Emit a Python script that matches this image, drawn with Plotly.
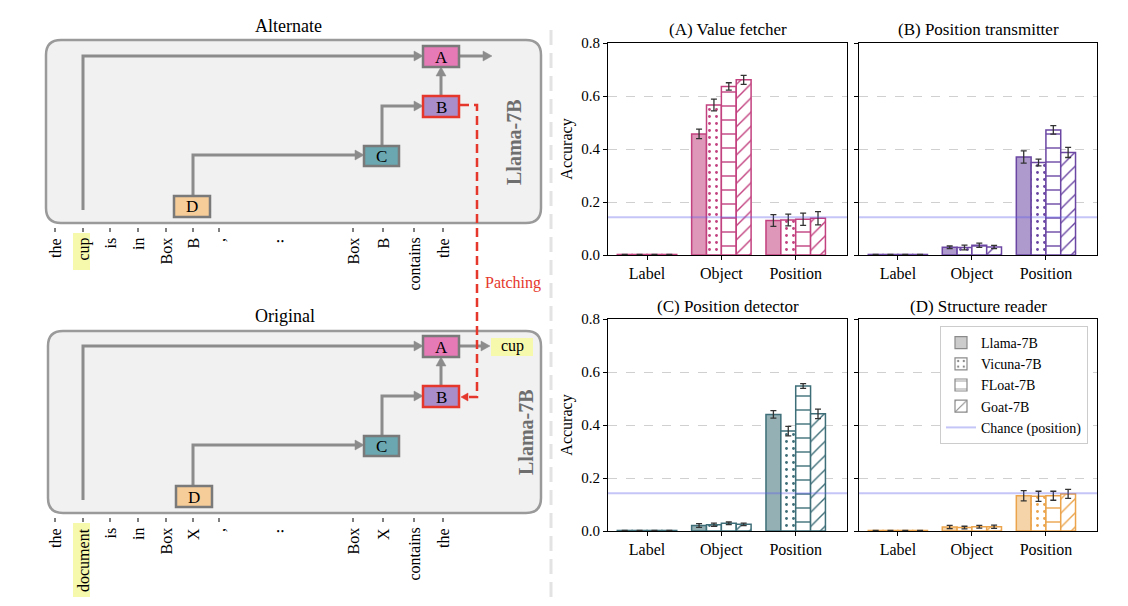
import plotly.graph_objects as go

W, H = 1128, 606
OFF = 8  # page body margin in the browser
SERIF = "Liberation Serif"

# ---------------- data ----------------
CATEGORIES = ["Label", "Object", "Position"]
MODELS = ["Llama-7B", "Vicuna-7B", "FLoat-7B", "Goat-7B"]
PANEL_TITLES = ["(A) Value fetcher", "(B) Position transmitter",
                "(C) Position detector", "(D) Structure reader"]
CHANCE = 1 / 7
Y_TICKS = [0.0, 0.2, 0.4, 0.6, 0.8]

A_LLAMA = [0.002, 0.457, 0.130]
A_VICUNA = [0.002, 0.566, 0.132]
A_FLOAT = [0.002, 0.636, 0.135]
A_GOAT = [0.002, 0.661, 0.139]
A_LLAMA_ERR = [0.0, 0.018, 0.022]
A_VICUNA_ERR = [0.0, 0.022, 0.022]
A_FLOAT_ERR = [0.0, 0.014, 0.023]
A_GOAT_ERR = [0.0, 0.017, 0.025]

B_LLAMA = [0.002, 0.029, 0.370]
B_VICUNA = [0.002, 0.028, 0.349]
B_FLOAT = [0.002, 0.037, 0.472]
B_GOAT = [0.002, 0.030, 0.387]
B_LLAMA_ERR = [0.0, 0.005, 0.023]
B_VICUNA_ERR = [0.0, 0.009, 0.013]
B_FLOAT_ERR = [0.0, 0.008, 0.016]
B_GOAT_ERR = [0.0, 0.006, 0.019]

C_LLAMA = [0.002, 0.021, 0.440]
C_VICUNA = [0.002, 0.024, 0.377]
C_FLOAT = [0.002, 0.029, 0.547]
C_GOAT = [0.002, 0.025, 0.442]
C_LLAMA_ERR = [0.0, 0.007, 0.014]
C_VICUNA_ERR = [0.0, 0.006, 0.018]
C_FLOAT_ERR = [0.0, 0.005, 0.009]
C_GOAT_ERR = [0.0, 0.005, 0.018]

D_LLAMA = [0.002, 0.015, 0.133]
D_VICUNA = [0.002, 0.013, 0.131]
D_FLOAT = [0.002, 0.016, 0.133]
D_GOAT = [0.002, 0.016, 0.140]
D_LLAMA_ERR = [0.0, 0.006, 0.019]
D_VICUNA_ERR = [0.0, 0.005, 0.019]
D_FLOAT_ERR = [0.0, 0.005, 0.017]
D_GOAT_ERR = [0.0, 0.006, 0.017]

TOP_TOKENS = ["the", "cup", "is", "in", "Box", "B", ",", "Box", "B", "contains", "the"]
BOTTOM_TOKENS = ["the", "document", "is", "in", "Box", "X", ",", "Box", "X", "contains", "the"]
TOKEN_X = [55, 83, 110, 138, 166, 193, 219, 353, 383, 414, 443]

PANEL_VALUES = [
    [A_LLAMA, A_VICUNA, A_FLOAT, A_GOAT],
    [B_LLAMA, B_VICUNA, B_FLOAT, B_GOAT],
    [C_LLAMA, C_VICUNA, C_FLOAT, C_GOAT],
    [D_LLAMA, D_VICUNA, D_FLOAT, D_GOAT],
]
PANEL_ERRORS = [
    [A_LLAMA_ERR, A_VICUNA_ERR, A_FLOAT_ERR, A_GOAT_ERR],
    [B_LLAMA_ERR, B_VICUNA_ERR, B_FLOAT_ERR, B_GOAT_ERR],
    [C_LLAMA_ERR, C_VICUNA_ERR, C_FLOAT_ERR, C_GOAT_ERR],
    [D_LLAMA_ERR, D_VICUNA_ERR, D_FLOAT_ERR, D_GOAT_ERR],
]

# ---------------- styles ----------------
PANEL_EDGE = ["#C2417F", "#6B47A3", "#3E6E78", "#EBA44C"]
PANEL_FILL = ["#DE97B9", "#AE9ACD", "#95B0B5", "#F4D4A8"]
PATTERNS = [None, dict(shape=".", size=7, solidity=0.13),
            dict(shape="-", size=14, solidity=0.1),
            dict(shape="/", size=10, solidity=0.14)]

# panel pixel boxes (left, right, top, bottom) in window pixels
PANEL_BOX = [(608, 847, 43, 255), (859, 1097, 43, 255),
             (608, 847, 319, 531), (859, 1097, 319, 531)]
X_RANGE = [-0.525, 2.69]


def X(px):
    return (px - OFF) / W


def Y(py):
    return 1 - (py - OFF) / H


fig = go.Figure()

for p in range(4):
    xa = "x" if p == 0 else f"x{p + 1}"
    ya = "y" if p == 0 else f"y{p + 1}"
    for m in range(4):
        edge = PANEL_EDGE[p]
        if PATTERNS[m] is None:
            marker = dict(color=PANEL_FILL[p], line=dict(color=edge, width=1.5))
        else:
            pat = dict(PATTERNS[m])
            pat.update(fgcolor=edge, bgcolor="white", fillmode="replace")
            marker = dict(color="white", line=dict(color=edge, width=1.5), pattern=pat)
        fig.add_trace(go.Bar(
            x=CATEGORIES, y=PANEL_VALUES[p][m], xaxis=xa, yaxis=ya,
            offsetgroup=MODELS[m], name=MODELS[m], showlegend=False,
            marker=marker,
            error_y=dict(type="data", array=PANEL_ERRORS[p][m], color="#333333",
                         thickness=1.3, width=3),
        ))

# legend-only gray entries
for m in range(4):
    if PATTERNS[m] is None:
        marker = dict(color="#cccccc", line=dict(color="#8a8a8a", width=1.2))
    else:
        pat = dict(PATTERNS[m])
        pat.update(fgcolor="#8a8a8a", bgcolor="white", fillmode="replace")
        marker = dict(color="white", line=dict(color="#8a8a8a", width=1.2), pattern=pat)
    fig.add_trace(go.Bar(x=[None], y=[None], xaxis="x4", yaxis="y4",
                         offsetgroup=MODELS[m], name=MODELS[m], showlegend=True,
                         marker=marker))

layout_axes = {}
annotations = []
shapes = []
for p in range(4):
    l, r, t, b = PANEL_BOX[p]
    sx = "" if p == 0 else str(p + 1)
    layout_axes[f"xaxis{sx}"] = dict(
        domain=[X(l), X(r)], anchor=f"y{sx}", range=X_RANGE, type="category",
        showline=True, mirror=True, linecolor="black", linewidth=1,
        ticks="outside", ticklen=4, tickcolor="black", showgrid=False, automargin=False,
        tickfont=dict(family=SERIF, size=16, color="black"), fixedrange=True,
    )
    layout_axes[f"yaxis{sx}"] = dict(
        domain=[Y(b), Y(t)], anchor=f"x{sx}", range=[0, 0.8], tickvals=Y_TICKS,
        tickformat=".1f", showline=True, mirror=True, linecolor="black", linewidth=1,
        ticks="outside", ticklen=4, tickcolor="black", zeroline=False, automargin=False,
        showgrid=True, gridcolor="#d0d0d0", griddash="dash", gridwidth=1,
        showticklabels=(p % 2 == 0),
        tickfont=dict(family=SERIF, size=15, color="black"), fixedrange=True,
        title=dict(text="Accuracy" if p % 2 == 0 else "",
                   font=dict(family=SERIF, size=16, color="black"), standoff=4),
    )
    annotations.append(dict(
        text=PANEL_TITLES[p], xref="paper", yref="paper", x=X((l + r) / 2), y=Y(t - 13),
        xanchor="center", yanchor="middle", showarrow=False,
        font=dict(family=SERIF, size=17, color="black")))
    sh = dict(type="line", xref=f"x{sx} domain", x0=0, x1=1, yref=f"y{sx}",
              y0=CHANCE, y1=CHANCE, line=dict(color="rgba(90,90,235,0.35)", width=2))
    if p == 3:
        sh.update(showlegend=True, name="Chance (position)")
    shapes.append(sh)

# ---------------- diagram ----------------
GRAY = "#8c8c8c"
RED = "#e5372c"


def rrect_path(x0, y0, x1, y1, r):
    pts = [
        f"M {X(x0 + r)},{Y(y0)}", f"L {X(x1 - r)},{Y(y0)}",
        f"Q {X(x1)},{Y(y0)} {X(x1)},{Y(y0 + r)}", f"L {X(x1)},{Y(y1 - r)}",
        f"Q {X(x1)},{Y(y1)} {X(x1 - r)},{Y(y1)}", f"L {X(x0 + r)},{Y(y1)}",
        f"Q {X(x0)},{Y(y1)} {X(x0)},{Y(y1 - r)}", f"L {X(x0)},{Y(y0 + r)}",
        f"Q {X(x0)},{Y(y0)} {X(x0 + r)},{Y(y0)}", "Z",
    ]
    return " ".join(pts)


def poly(points, color=GRAY, width=3, dash="solid"):
    path = "M " + " L ".join(f"{X(a)},{Y(b)}" for a, b in points)
    shapes.append(dict(type="path", xref="paper", yref="paper", path=path,
                       line=dict(color=color, width=width, dash=dash)))


def head(tx, ty, direction, color=GRAY, length=9, half=5):
    if direction == "right":
        pts = [(tx, ty), (tx - length, ty - half), (tx - length, ty + half)]
    elif direction == "left":
        pts = [(tx, ty), (tx + length, ty - half), (tx + length, ty + half)]
    else:  # up
        pts = [(tx, ty), (tx - half, ty + length), (tx + half, ty + length)]
    path = "M " + " L ".join(f"{X(a)},{Y(b)}" for a, b in pts) + " Z"
    shapes.append(dict(type="path", xref="paper", yref="paper", path=path,
                       fillcolor=color, line=dict(color=color, width=0.5)))


def rect(x0, y0, x1, y1, fill, line_color, lw):
    shapes.append(dict(type="rect", xref="paper", yref="paper",
                       x0=X(x0), x1=X(x1), y0=Y(y1), y1=Y(y0),
                       fillcolor=fill, line=dict(color=line_color, width=lw)))


def text(x, y, s, size=16, color="black", angle=0, xa="center", ya="middle"):
    annotations.append(dict(text=s, xref="paper", yref="paper", x=X(x), y=Y(y),
                            xanchor=xa, yanchor=ya, showarrow=False, textangle=angle,
                            font=dict(family=SERIF, size=size, color=color)))


# separator
shapes.append(dict(type="line", xref="paper", yref="paper", x0=X(551), x1=X(551),
                   y0=Y(30), y1=Y(600), line=dict(color="#e3e3e3", width=3, dash="15px,8px")))

NODE_FILL = {"A": "#e67ab6", "B": "#a98dca", "C": "#6aa7b0", "D": "#f6cd98"}


def panel(dy, box, title, title_x, llama_x, tokens, hi_y1, d_x0, out_label):
    shapes.append(dict(type="path", xref="paper", yref="paper",
                       path=rrect_path(box[0], box[1], box[2], box[3], 15),
                       fillcolor="#f1f1f1", line=dict(color="#9a9a9a", width=2.5)))
    text(title_x, 26 + dy, title, size=18)
    text(llama_x, 142 + dy, "<b>Llama-7B</b>", size=20, color="#6e6e6e", angle=-90)
    poly([(83, 210 + dy), (83, 56 + dy), (415, 56 + dy)])
    head(423, 56 + dy, "right")
    poly([(459, 56 + dy), (484, 56 + dy)])
    head(492 if out_label is None else 490, 56 + dy, "right")
    poly([(441, 96 + dy), (441, 75 + dy)])
    head(441, 67 + dy, "up")
    poly([(382, 146 + dy), (382, 106 + dy), (415, 106 + dy)])
    head(423, 106 + dy, "right")
    poly([(193, 196 + dy), (193, 155 + dy), (356, 155 + dy)])
    head(364, 155 + dy, "right")
    rect(423, 46 + dy, 459, 67 + dy, NODE_FILL["A"], "#7a7a7a", 2.5)
    rect(423, 96 + dy, 459, 117 + dy, NODE_FILL["B"], RED, 2.5)
    rect(364, 146 + dy, 399, 166 + dy, NODE_FILL["C"], "#7a7a7a", 2.5)
    rect(d_x0, 196 + dy, d_x0 + 36, 217 + dy, NODE_FILL["D"], "#7a7a7a", 2.5)
    text(441, 57 + dy, "A", size=17)
    text(441, 107 + dy, "B", size=17)
    text(381.5, 156.5 + dy, "C", size=17)
    text(d_x0 + 18, 207 + dy, "D", size=17)
    if out_label is not None:
        rect(491, 338, 533, 356, "#f6f8ac", "#f6f8ac", 0)
        text(512, 346, out_label, size=16)
    rect(73, 233 + dy, 90, hi_y1, "#f6f8ac", "#f6f8ac", 0)
    for tok, tx in zip(tokens, TOKEN_X):
        shapes.append(dict(type="line", xref="paper", yref="paper", x0=X(tx), x1=X(tx),
                           y0=Y(228 + dy), y1=Y(232 + dy), line=dict(color="black", width=1)))
        text(tx, 236 + dy, tok, size=16, angle=-90, ya="top")
    text(280.5, 236 + dy, "\u2025", size=16, ya="middle")


panel(0, (46, 40, 541, 223), "Alternate", 288, 514, TOP_TOKENS, 270, 174, None)
panel(290, (48, 331, 541, 513), "Original", 285, 526, BOTTOM_TOKENS, 597, 176, "cup")

poly([(460, 105), (477, 105), (477, 397), (469, 397)], color=RED, width=2.5, dash="9px,5px")
head(461, 397, "left", color=RED, length=7, half=4)
text(513, 283, "Patching", size=16, color=RED)

fig.update_layout(
    width=W, height=H, autosize=False,
    margin=dict(l=0, r=0, t=0, b=0, pad=0, autoexpand=False),
    paper_bgcolor="white", plot_bgcolor="white",
    barmode="group", bargap=0.2, bargroupgap=0.0,
    font=dict(family=SERIF, size=15, color="black"),
    showlegend=True,
    legend=dict(x=X(940), y=Y(326), xanchor="left", yanchor="top",
                bgcolor="white", bordercolor="#cccccc", borderwidth=1,
                font=dict(family=SERIF, size=14, color="black"),
                traceorder="normal"),
    annotations=annotations, shapes=shapes,
    **layout_axes,
)

fig.write_html("out.html")
